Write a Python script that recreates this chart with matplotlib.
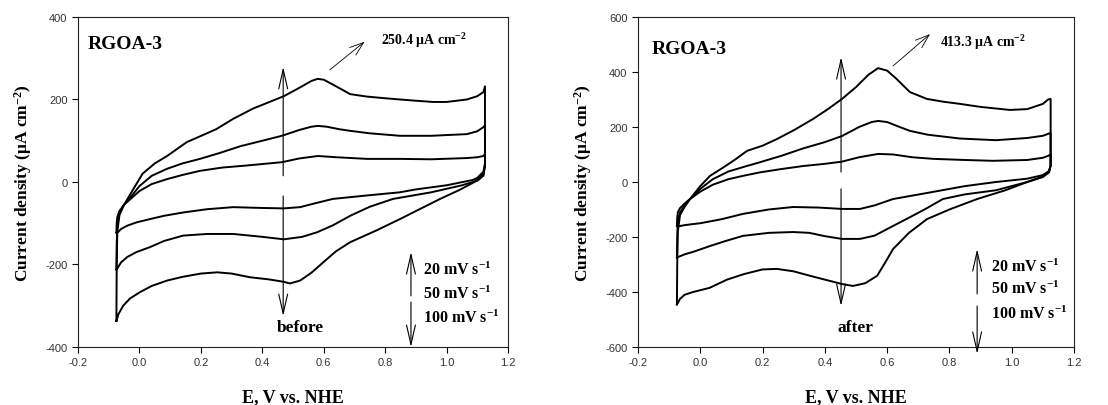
import matplotlib

matplotlib.use("Agg")
import matplotlib.pyplot as plt

plt.rcParams["font.family"] = ["Liberation Serif", "DejaVu Serif"]
plt.rcParams["mathtext.fontset"] = "custom"
plt.rcParams["mathtext.rm"] = "Liberation Serif:bold"
plt.rcParams["mathtext.bf"] = "Liberation Serif:bold"
plt.rcParams["mathtext.default"] = "bf"
plt.rcParams["axes.unicode_minus"] = False

# ---- left panel ("before"), loops as anodic branch then cathodic branch ----
before_100_x = [-0.075, -0.074, -0.072, -0.065, -0.05, -0.03, -0.01, 0.01, 0.05, 0.09,
                0.13, 0.155, 0.18, 0.25, 0.305, 0.37, 0.43, 0.47, 0.52, 0.56, 0.58, 0.60,
                0.64, 0.686, 0.741, 0.80, 0.848, 0.90, 0.956, 1.00, 1.066, 1.10, 1.12, 1.125,
                1.125, 1.12, 1.10, 1.086, 1.04, 0.979, 0.92, 0.848, 0.77, 0.686, 0.64, 0.598,
                0.56, 0.523, 0.49, 0.47, 0.42, 0.36, 0.30, 0.253, 0.20, 0.14, 0.09, 0.04,
                0.002, -0.03, -0.053, -0.068, -0.075]
before_100_y = [-337, -200, -120, -80, -55, -30, -5, 20, 45, 63,
                84, 97, 105, 128, 153, 178, 196, 208, 228, 245, 250, 248,
                232, 213, 207, 203, 200, 197, 194, 194, 200, 208, 218, 232,
                40, 20, 5, -2, -20, -41, -63, -90, -118, -146, -168, -195,
                -220, -239, -246, -242, -236, -231, -222, -219, -222, -230, -239, -252,
                -267, -282, -300, -320, -337]

before_50_x = [-0.075, -0.074, -0.072, -0.065, -0.05, -0.03, 0.0, 0.04, 0.09, 0.14, 0.197,
               0.26, 0.33, 0.40, 0.464, 0.52, 0.56, 0.581, 0.61, 0.65, 0.686, 0.75, 0.848,
               0.95, 1.066, 1.10, 1.12, 1.125,
               1.125, 1.12, 1.10, 1.05, 0.95, 0.826, 0.75, 0.686, 0.63, 0.578, 0.53, 0.49,
               0.47, 0.40, 0.305, 0.22, 0.142, 0.08, 0.034, -0.01, -0.04, -0.06, -0.073, -0.075]
before_50_y = [-211, -150, -100, -75, -55, -38, -10, 15, 32, 45, 56,
               70, 87, 100, 112, 126, 134, 136, 134, 128, 124, 118, 112,
               112, 116, 123, 133, 138,
               40, 15, 3, -8, -25, -41, -60, -82, -105, -122, -133, -137,
               -139, -133, -126, -126, -130, -143, -158, -170, -182, -195, -211, -213]

before_20_x = [-0.075, -0.074, -0.072, -0.065, -0.05, -0.03, 0.0, 0.04, 0.09, 0.14, 0.197,
               0.27, 0.35, 0.464, 0.52, 0.581, 0.64, 0.741, 0.85, 0.95, 1.066, 1.10, 1.12,
               1.125,
               1.125, 1.12, 1.10, 1.086, 1.00, 0.90, 0.848, 0.75, 0.63, 0.57, 0.523, 0.47,
               0.40, 0.305, 0.22, 0.142, 0.08, 0.034, -0.01, -0.04, -0.06, -0.07, -0.075]
before_20_y = [-122, -100, -85, -70, -55, -42, -22, -5, 7, 17, 27,
               35, 40, 48, 57, 63, 60, 56, 56, 55, 58, 60, 63,
               68,
               45, 25, 10, 5, -8, -18, -25, -32, -41, -52, -61, -64,
               -63, -61, -66, -74, -82, -90, -98, -106, -114, -122, -123]

# ---- right panel ("after") ----
after_100_x = [-0.075, -0.074, -0.072, -0.065, -0.05, -0.033, 0.0, 0.031, 0.07, 0.11, 0.15,
               0.20, 0.246, 0.30, 0.362, 0.41, 0.455, 0.50, 0.54, 0.571, 0.60, 0.63, 0.673,
               0.728, 0.78, 0.834, 0.90, 0.994, 1.05, 1.10, 1.117, 1.125,
               1.125, 1.12, 1.10, 1.05, 0.98, 0.889, 0.80, 0.728, 0.67, 0.619, 0.59, 0.568,
               0.53, 0.49, 0.455, 0.40, 0.352, 0.30, 0.246, 0.20, 0.14, 0.086, 0.03, -0.023,
               -0.05, -0.065, -0.072, -0.075]
after_100_y = [-445, -300, -180, -120, -90, -62, -15, 22, 50, 80, 113,
               132, 156, 188, 229, 265, 302, 345, 390, 414, 405, 375, 327,
               302, 292, 284, 273, 262, 265, 284, 300, 302,
               60, 40, 20, 0, -30, -62, -100, -135, -185, -244, -300, -341,
               -368, -378, -371, -355, -341, -325, -316, -318, -335, -355, -385, -400,
               -410, -425, -440, -445]

after_50_x = [-0.075, -0.074, -0.072, -0.065, -0.05, -0.033, 0.0, 0.04, 0.09, 0.14, 0.192,
              0.26, 0.33, 0.40, 0.455, 0.51, 0.55, 0.571, 0.60, 0.64, 0.673, 0.73, 0.834,
              0.95, 1.05, 1.10, 1.117, 1.125,
              1.125, 1.12, 1.10, 1.05, 0.95, 0.85, 0.779, 0.72, 0.67, 0.619, 0.56, 0.513,
              0.455, 0.40, 0.35, 0.298, 0.22, 0.137, 0.08, 0.031, -0.02, -0.05, -0.065, -0.075]
after_50_y = [-275, -200, -140, -110, -85, -62, -25, 10, 38, 55, 72,
              95, 122, 145, 167, 200, 218, 222, 218, 200, 186, 172, 158,
              152, 160, 168, 175, 178,
              60, 35, 18, 0, -30, -45, -62, -100, -130, -160, -195, -207,
              -207, -197, -185, -182, -185, -196, -215, -233, -253, -263, -270, -275]

after_20_x = [-0.075, -0.074, -0.072, -0.065, -0.05, -0.033, 0.0, 0.04, 0.09, 0.14, 0.192,
              0.26, 0.33, 0.40, 0.455, 0.51, 0.571, 0.62, 0.68, 0.75, 0.85, 0.94, 1.05,
              1.10, 1.117, 1.125,
              1.125, 1.12, 1.10, 1.05, 0.95, 0.85, 0.728, 0.619, 0.56, 0.513, 0.455, 0.38,
              0.298, 0.22, 0.137, 0.07, 0.0, -0.023, -0.05, -0.065, -0.075]
after_20_y = [-160, -130, -110, -95, -78, -62, -35, -10, 10, 23, 35,
              47, 58, 66, 74, 90, 102, 100, 90, 84, 80, 77, 80,
              88, 95, 100,
              60, 40, 25, 12, 0, -15, -40, -62, -85, -98, -98, -93,
              -91, -100, -116, -135, -150, -153, -157, -160, -161]

panels = [
    {
        "loops": [(before_100_x, before_100_y), (before_50_x, before_50_y), (before_20_x, before_20_y)],
        "ylim": (-400, 400),
        "yticks": [-400, -200, 0, 200, 400],
        "name_xy": (-0.17, 335),
        "peak_label": "250.4 μA cm$^{-2}$",
        "peak_arrow": ((0.62, 272), (0.733, 340)),
        "peak_text_xy": (0.785, 345),
        "sweep_x": 0.468,
        "sweep_up": (15, 279),
        "sweep_down": (-34, -325),
        "state": "before",
        "state_xy": (0.523, -352),
        "rate_x": 0.884,
        "rate_up": (-276, -170),
        "rate_down": (-291, -400),
        "rate_text": [(0.922, -212), (0.922, -270), (0.922, -327)],
    },
    {
        "loops": [(after_100_x, after_100_y), (after_50_x, after_50_y), (after_20_x, after_20_y)],
        "ylim": (-600, 600),
        "yticks": [-600, -400, -200, 0, 200, 400, 600],
        "name_xy": (-0.155, 484),
        "peak_label": "413.3 μA cm$^{-2}$",
        "peak_arrow": ((0.619, 422), (0.738, 538)),
        "peak_text_xy": (0.77, 509),
        "sweep_x": 0.452,
        "sweep_up": (36, 454),
        "sweep_down": (-25, -451),
        "state": "after",
        "state_xy": (0.497, -527),
        "rate_x": 0.889,
        "rate_up": (-407, -244),
        "rate_down": (-451, -625),
        "rate_text": [(0.935, -305), (0.935, -387), (0.935, -478)],
    },
]
rate_labels = ["20 mV s$^{-1}$", "50 mV s$^{-1}$", "100 mV s$^{-1}$"]

fig = plt.figure(figsize=(11.08, 4.06), dpi=100)
axes = [fig.add_axes([0.0704, 0.1429, 0.3881, 0.8128]),
        fig.add_axes([0.5758, 0.1429, 0.3935, 0.8128])]

open_head = dict(arrowstyle="->,head_length=14,head_width=3.2", lw=0.8, color="black",
                 mutation_scale=1, shrinkA=0, shrinkB=0)
small_head = dict(arrowstyle="->,head_length=10,head_width=3.5", lw=0.6, color="black",
                  mutation_scale=1, shrinkA=0, shrinkB=0)

for ax, panel in zip(axes, panels):
    for xs, ys in panel["loops"]:
        ax.plot(xs, ys, color="black", lw=1.4)

    ax.set_xlim(-0.2, 1.2)
    ax.set_ylim(*panel["ylim"])
    ax.set_xticks([-0.2, 0.0, 0.2, 0.4, 0.6, 0.8, 1.0, 1.2])
    ax.set_xticklabels([f"{t:.1f}" for t in ax.get_xticks()])
    ax.set_yticks(panel["yticks"])
    ax.tick_params(direction="out", length=4, width=0.8, labelsize=8, labelcolor="#333333",
                   top=False, right=False)
    for label in ax.get_xticklabels() + ax.get_yticklabels():
        label.set_family(["Liberation Sans", "DejaVu Sans"])
    for spine in ax.spines.values():
        spine.set_linewidth(0.8)
        spine.set_color("#222222")

    ax.set_xlabel("E, V vs. NHE", fontsize=13, fontweight="bold", labelpad=15)
    ax.set_ylabel("Current density (μA cm$^{-2}$)", fontsize=12.5, fontweight="bold", labelpad=8)

    ax.text(*panel["name_xy"], "RGOA-3", fontsize=14, fontweight="bold", va="center", ha="left")

    start, end = panel["peak_arrow"]
    ax.annotate("", xy=end, xytext=start, arrowprops=small_head)
    ax.text(*panel["peak_text_xy"], panel["peak_label"], fontsize=10, fontweight="bold",
            va="center", ha="left")

    sx = panel["sweep_x"]
    lo, hi = panel["sweep_up"]
    ax.annotate("", xy=(sx, hi), xytext=(sx, lo), arrowprops=open_head)
    lo, hi = panel["sweep_down"]
    ax.annotate("", xy=(sx, hi), xytext=(sx, lo), arrowprops=open_head)
    ax.text(*panel["state_xy"], panel["state"], fontsize=12.5, fontweight="bold",
            ha="center", va="center")

    rx = panel["rate_x"]
    lo, hi = panel["rate_up"]
    ax.annotate("", xy=(rx, hi), xytext=(rx, lo), arrowprops=open_head, annotation_clip=False)
    lo, hi = panel["rate_down"]
    ax.annotate("", xy=(rx, hi), xytext=(rx, lo), arrowprops=open_head, annotation_clip=False)
    for (tx, ty), label in zip(panel["rate_text"], rate_labels):
        ax.text(tx, ty, label, fontsize=11.5, fontweight="bold", ha="left", va="center")

fig.savefig("out.png", dpi=100)
